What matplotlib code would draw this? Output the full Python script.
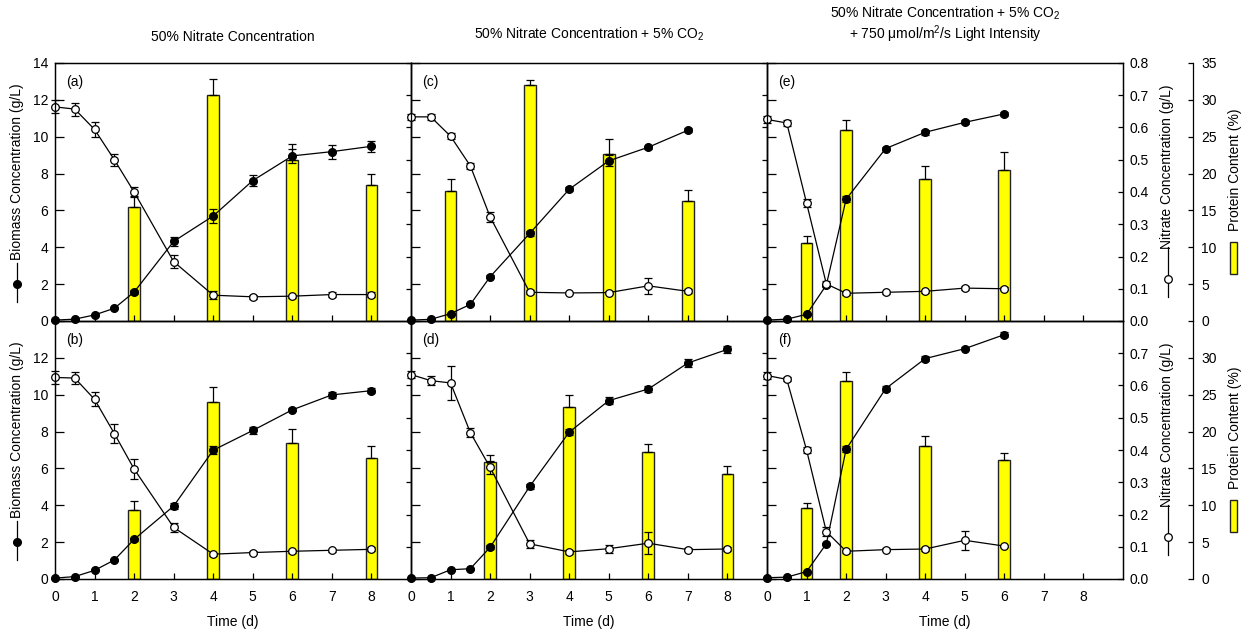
import matplotlib
matplotlib.use('Agg')
from matplotlib import pyplot as plt
from matplotlib.lines import Line2D
from matplotlib.patches import Rectangle
from matplotlib.ticker import FormatStrFormatter

plt.rcParams['font.family'] = ['Liberation Sans', 'DejaVu Sans']
plt.rcParams['font.size'] = 10
plt.rcParams['mathtext.fontset'] = 'custom'
plt.rcParams['mathtext.rm'] = 'Liberation Sans'
plt.rcParams['mathtext.it'] = 'Liberation Sans:italic'
plt.rcParams['mathtext.default'] = 'regular'

#--------------------------------------------------------------------------------
# sampling times (d)
t8 = [0, 0.5, 1, 1.5, 2, 3, 4, 5, 6, 7, 8]
t7 = [0, 0.5, 1, 1.5, 2, 3, 4, 5, 6, 7]
t6 = [0, 0.5, 1, 1.5, 2, 3, 4, 5, 6]

# (a) 50% nitrate
bio_a     = [0.05, 0.10, 0.33, 0.69, 1.57, 4.32, 5.70, 7.62, 8.96, 9.19, 9.48]
bio_a_err = [0.03, 0.03, 0.05, 0.05, 0.10, 0.25, 0.40, 0.30, 0.40, 0.38, 0.30]
nit_a     = [0.664, 0.657, 0.594, 0.500, 0.400, 0.184, 0.080, 0.075, 0.077, 0.082, 0.082]
nit_a_err = [0.020, 0.020, 0.022, 0.018, 0.016, 0.020, 0.012, 0.006, 0.005, 0.008, 0.007]
pt_a      = [2, 4, 6, 8]
prot_a     = [15.5, 30.7, 21.9, 18.5]
prot_a_err = [1.4, 2.1, 2.1, 1.5]

# (b) 50% nitrate, repeat
bio_b     = [0.05, 0.13, 0.47, 1.03, 2.15, 3.96, 6.99, 8.06, 9.18, 9.99, 10.22]
bio_b_err = [0.03, 0.03, 0.05, 0.05, 0.08, 0.15, 0.20, 0.20, 0.08, 0.15, 0.15]
nit_b     = [0.625, 0.623, 0.557, 0.451, 0.341, 0.160, 0.077, 0.082, 0.086, 0.089, 0.092]
nit_b_err = [0.020, 0.018, 0.022, 0.030, 0.030, 0.015, 0.005, 0.005, 0.005, 0.005, 0.006]
pt_b      = [2, 4, 6, 8]
prot_b     = [9.3, 24.0, 18.4, 16.4]
prot_b_err = [1.3, 2.1, 1.9, 1.7]

# (c) 50% nitrate + 5% CO2
bio_c     = [0.05, 0.09, 0.40, 0.90, 2.40, 4.75, 7.15, 8.69, 9.43, 10.35]
bio_c_err = [0.03, 0.03, 0.05, 0.05, 0.08, 0.12, 0.10, 0.30, 0.08, 0.12]
nit_c     = [0.633, 0.633, 0.573, 0.481, 0.323, 0.089, 0.087, 0.088, 0.109, 0.092]
nit_c_err = [0.010, 0.010, 0.010, 0.010, 0.015, 0.006, 0.004, 0.005, 0.025, 0.006]
pt_c      = [1, 3, 5, 7]
prot_c     = [17.6, 32.0, 22.6, 16.3]
prot_c_err = [1.6, 0.7, 2.1, 1.5]

# (d) 50% nitrate + 5% CO2, repeat
bio_d     = [0.05, 0.07, 0.50, 0.56, 1.72, 5.02, 7.97, 9.68, 10.31, 11.72, 12.46]
bio_d_err = [0.03, 0.03, 0.05, 0.05, 0.10, 0.12, 0.15, 0.20, 0.15, 0.20, 0.20]
nit_d     = [0.634, 0.615, 0.608, 0.454, 0.346, 0.109, 0.084, 0.094, 0.111, 0.091, 0.093]
nit_d_err = [0.012, 0.015, 0.052, 0.015, 0.020, 0.012, 0.005, 0.012, 0.034, 0.004, 0.005]
pt_d      = [2, 4, 6, 8]
prot_d     = [15.9, 23.4, 17.2, 14.2]
prot_d_err = [0.9, 1.5, 1.1, 1.1]

# (e) 50% nitrate + 5% CO2 + 750 umol/m2/s
bio_e     = [0.05, 0.10, 0.36, 1.95, 6.61, 9.36, 10.24, 10.78, 11.24]
bio_e_err = [0.03, 0.03, 0.05, 0.10, 0.15, 0.10, 0.12, 0.10, 0.12]
nit_e     = [0.625, 0.614, 0.366, 0.115, 0.086, 0.089, 0.092, 0.102, 0.100]
nit_e_err = [0.010, 0.010, 0.012, 0.008, 0.004, 0.004, 0.005, 0.006, 0.004]
pt_e      = [1, 2, 4, 6]
prot_e     = [10.6, 25.9, 19.3, 20.5]
prot_e_err = [0.95, 1.3, 1.7, 2.4]

# (f) 50% nitrate + 5% CO2 + 750 umol/m2/s, repeat
bio_f     = [0.07, 0.10, 0.40, 1.91, 7.04, 10.33, 11.96, 12.50, 13.26]
bio_f_err = [0.03, 0.03, 0.05, 0.06, 0.15, 0.15, 0.15, 0.10, 0.15]
nit_f     = [0.631, 0.619, 0.400, 0.147, 0.086, 0.091, 0.093, 0.120, 0.102]
nit_f_err = [0.010, 0.006, 0.010, 0.015, 0.004, 0.004, 0.005, 0.030, 0.004]
pt_f      = [1, 2, 4, 6]
prot_f     = [9.6, 26.8, 18.0, 16.1]
prot_f_err = [0.72, 1.26, 1.35, 1.0]

panels = [
    # row, col, letter, t, biomass, err, nitrate, err, protein t, protein, err
    (0, 0, '(a)', t8, bio_a, bio_a_err, nit_a, nit_a_err, pt_a, prot_a, prot_a_err),
    (1, 0, '(b)', t8, bio_b, bio_b_err, nit_b, nit_b_err, pt_b, prot_b, prot_b_err),
    (0, 1, '(c)', t7, bio_c, bio_c_err, nit_c, nit_c_err, pt_c, prot_c, prot_c_err),
    (1, 1, '(d)', t8, bio_d, bio_d_err, nit_d, nit_d_err, pt_d, prot_d, prot_d_err),
    (0, 2, '(e)', t6, bio_e, bio_e_err, nit_e, nit_e_err, pt_e, prot_e, prot_e_err),
    (1, 2, '(f)', t6, bio_f, bio_f_err, nit_f, nit_f_err, pt_f, prot_f, prot_f_err),
]

titles = ['50% Nitrate Concentration',
          '50% Nitrate Concentration + 5% CO$_2$',
          '50% Nitrate Concentration + 5% CO$_2$']

#--------------------------------------------------------------------------------
W, H = 1253, 629
fig = plt.figure(figsize=(W / 100, H / 100), dpi=100)

def fx(x):
    return x / W

def fy(y):
    return 1 - y / H

col_x = [55, 411, 767]
row_y = [63, 321]
pw, ph = 356, 258
prot_off = 1 + (1193 - 1123) / pw

lw = 0.9
for row, col, letter, t, bio, bio_err, nit, nit_err, pt, prot, prot_err in panels:
    ax = fig.add_axes([fx(col_x[col]), fy(row_y[row] + ph), pw / W, ph / H])
    axn = ax.twinx()
    axp = ax.twinx()
    axp.set_zorder(1)
    ax.set_zorder(2)
    axn.set_zorder(3)
    for a in (ax, axn, axp):
        a.patch.set_visible(False)

    ax.set_xlim(0, 9)
    ax.set_ylim(0, 14)
    axn.set_ylim(0, 0.8)
    axp.set_ylim(0, 35)

    # protein bars (upper error only)
    axp.bar(pt, prot, width=0.3, color='#FFFF00', edgecolor='#222222', linewidth=1.0,
            yerr=[[0] * len(prot_err), prot_err], capsize=3,
            error_kw=dict(ecolor='k', elinewidth=lw, capthick=lw))
    # biomass
    ax.errorbar(t, bio, yerr=bio_err, fmt='-o', color='k', lw=lw, ms=5.5,
                mfc='k', mec='k', elinewidth=lw, capsize=3, capthick=lw, clip_on=False)
    # nitrate
    axn.errorbar(t, nit, yerr=nit_err, fmt='-o', color='k', lw=lw, ms=5.5,
                 mfc='white', mec='k', mew=0.9, elinewidth=lw, capsize=3, capthick=lw,
                 clip_on=False)

    ax.text(0.031, 0.926, letter, transform=ax.transAxes, va='center', ha='left')

    # biomass axis
    ax.set_yticks(range(0, 15 if row == 0 else 13, 2))
    ax.tick_params(axis='y', direction='in', length=6.5, width=0.9, pad=5,
                   left=True, right=False, labelleft=(col == 0))
    ax.set_xticks(range(0, 9))
    ax.tick_params(axis='x', direction='in', length=4.5, width=0.9, pad=8,
                   top=False, labelbottom=(row == 1))
    if row == 1:
        ax.set_xlabel('Time (d)', labelpad=8)

    # nitrate axis
    axn.set_yticks([i / 10 for i in range(0, 9 if row == 0 else 8)])
    axn.yaxis.set_major_formatter(FormatStrFormatter('%.1f'))
    axn.tick_params(axis='y', direction='in', length=3.8, width=0.9, pad=5,
                    labelright=(col == 2))

    # protein axis, only on the right-hand column
    for s in axp.spines.values():
        s.set_visible(False)
    if col == 2:
        axp.spines['right'].set_visible(True)
        axp.spines['right'].set_position(('axes', prot_off))
        axp.set_yticks(range(0, 36 if row == 0 else 31, 5))
        axp.tick_params(axis='y', direction='in', length=3.5, width=0.9, pad=6)
    else:
        axp.set_yticks([])

    for a in (ax, axn, axp):
        for s in a.spines.values():
            s.set_linewidth(0.9)

# column titles
fig.text(fx(233), fy(37), titles[0], ha='center', va='center')
fig.text(fx(589), fy(34), titles[1], ha='center', va='center')
fig.text(fx(945), fy(13), titles[2], ha='center', va='center')
fig.text(fx(945), fy(34), '+ 750 \u03bcmol/m$^2$/s Light Intensity', ha='center', va='center')

# axis titles with their series keys
for yc in (192, 450):
    fig.text(fx(17), fy(yc - 20), 'Biomass Concentration (g/L)', rotation=90,
             ha='center', va='center')
    fig.add_artist(Line2D([fx(17), fx(17)], [fy(yc + 71), fy(yc + 110)],
                          transform=fig.transFigure, color='k', lw=lw))
    fig.add_artist(Line2D([fx(17)], [fy(yc + 92)], transform=fig.transFigure,
                          marker='o', ms=5.5, mfc='k', mec='k', ls='none'))

    fig.text(fx(1167), fy(yc - 25), 'Nitrate Concentration (g/L)', rotation=90,
             ha='center', va='center')
    fig.add_artist(Line2D([fx(1168), fx(1168)], [fy(yc + 55), fy(yc + 105)],
                          transform=fig.transFigure, color='k', lw=lw))
    fig.add_artist(Line2D([fx(1168)], [fy(yc + 87)], transform=fig.transFigure,
                          marker='o', ms=5.5, mfc='white', mec='k', mew=0.9, ls='none'))

    fig.text(fx(1235), fy(yc - 22), 'Protein Content (%)', rotation=90,
             ha='center', va='center')
    fig.add_artist(Rectangle((fx(1230), fy(yc + 82)), 7 / W, 32 / H,
                             transform=fig.transFigure, fc='#FFFF00', ec='#222222', lw=1.0))

plt.savefig('out.png', dpi=100)
